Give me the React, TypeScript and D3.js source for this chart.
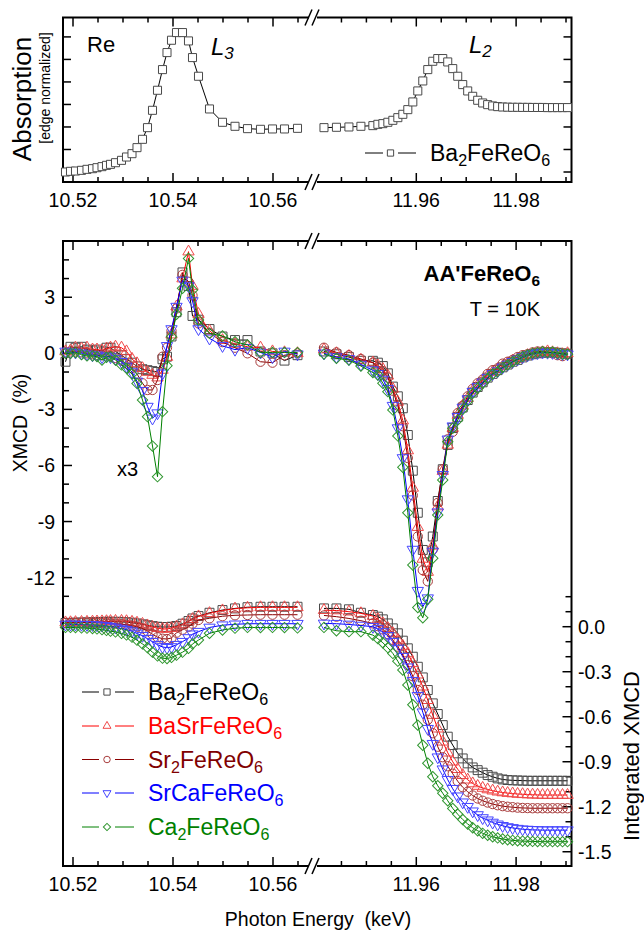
import React from 'react';
import * as d3 from 'd3';

// photon energy grids (keV)
const eL3 = [10.5185, 10.5195, 10.5205, 10.5217, 10.5228, 10.5239, 10.5248, 10.5258, 10.5267, 10.5275, 10.5285, 10.5297, 10.5307, 10.5318, 10.5328, 10.5339, 10.5349, 10.5359, 10.5369, 10.5379, 10.5388, 10.5397, 10.5407, 10.5419, 10.5431, 10.5439, 10.5451, 10.5473, 10.5499, 10.5524, 10.5549, 10.5575, 10.5599, 10.5623, 10.5649];
const eL2 = [11.9415, 11.944, 11.9465, 11.9489, 11.9513, 11.9523, 11.9533, 11.9543, 11.9553, 11.9563, 11.9573, 11.9583, 11.9593, 11.9603, 11.9613, 11.9623, 11.9633, 11.9643, 11.9653, 11.9663, 11.9673, 11.9683, 11.9693, 11.9703, 11.9713, 11.9723, 11.9733, 11.9743, 11.9753, 11.9763, 11.9773, 11.9783, 11.9793, 11.9803, 11.9813, 11.9823, 11.9833, 11.9843, 11.9853, 11.9863, 11.9873, 11.9883, 11.9893, 11.9903];

// absorption, Ba2FeReO6 (edge normalized)
const absL3 = [0, 0.015, 0.022, 0.037, 0.059, 0.074, 0.096, 0.119, 0.148, 0.17, 0.207, 0.259, 0.333, 0.407, 0.541, 0.726, 0.985, 1.37, 1.815, 2.274, 2.652, 2.926, 3.096, 3.096, 2.911, 2.541, 2.126, 1.4, 1.104, 1.015, 0.963, 0.948, 0.956, 0.956, 0.97];
const absL2 = [0.985, 0.993, 1.0, 1.015, 1.03, 1.059, 1.074, 1.104, 1.148, 1.207, 1.281, 1.385, 1.556, 1.8, 2.022, 2.274, 2.459, 2.519, 2.519, 2.444, 2.296, 2.126, 1.941, 1.8, 1.681, 1.593, 1.533, 1.496, 1.467, 1.452, 1.444, 1.44, 1.437, 1.437, 1.435, 1.435, 1.433, 1.433, 1.433, 1.43, 1.43, 1.43, 1.43, 1.43];

// XMCD (%), L3 shown x3
const baL3 = [-0.45, 0.35, 0.3, 0.35, 0.2, 0.15, 0.2, 0.1, 0.3, 0.3, 0.1, -0.1, -0.3, -0.5, -0.7, -0.85, -0.9, -0.95, -1.0, -0.32, -0.18, 0.9, 2.2, 4.33, 3.6, 2.0, 1.8, 1.3, 0.9, 0.71, 0.71, 0.1, 0.0, -0.39, -0.1];
const bsL3 = [0.1, 0.15, 0.3, 0.25, 0.3, 0.2, 0.2, 0.15, 0.25, 0.3, 0.35, 0.3, 0.1, -0.3, -0.54, -0.8, -1.0, -1.16, -1.3, -0.89, -0.2, 1.0, 2.5, 4.0, 5.44, 3.6, 2.1, 1.2, 0.7, 0.5, 0.35, 0.3, 0.1, 0.05, 0.0];
const srL3 = [0.05, 0.1, 0.1, 0.05, 0.0, -0.05, -0.1, -0.1, -0.05, -0.15, -0.25, -0.4, -0.55, -0.8, -1.1, -1.6, -1.96, -1.96, -1.43, -0.18, 0.3, 1.2, 2.4, 4.2, 3.83, 3.1, 1.6, 1.1, 0.6, 0.3, 0.0, -0.45, -0.5, -0.1, 0.0];
const scL3 = [0.1, 0.05, 0.05, 0.0, -0.05, -0.1, -0.1, -0.2, -0.15, -0.2, -0.3, -0.45, -0.7, -1.0, -1.5, -2.0, -2.85, -3.48, -3.2, -1.07, 0.4, 1.3, 2.5, 3.9, 3.6, 2.8, 1.3, 0.8, 0.4, 0.2, 0.3, 0.05, -0.2, 0.1, -0.05];
const caL3 = [0, 0, 0.04, -0.07, -0.14, -0.14, -0.18, -0.36, -0.21, -0.18, -0.36, -0.62, -0.8, -1.11, -1.61, -2.5, -3.39, -4.96, -6.6, -3.12, -0.66, 0.89, 2.09, 3.48, 5.08, 3.39, 1.78, 1.07, 0.93, 0.62, 0.45, 0.05, 0.05, 0.05, 0.04];

const baL2 = [0.1, -0.05, -0.2, -0.4, -0.4, -0.5, -0.68, -1.07, -1.78, -2.3, -2.94, -4.37, -6.28, -8.53, -10.52, -11.18, -9.8, -7.9, -6.2, -4.9, -4.0, -3.4, -2.9, -2.5, -2.1, -1.8, -1.55, -1.3, -1.1, -0.9, -0.75, -0.6, -0.45, -0.35, -0.22, -0.12, -0.05, 0.0, 0.03, 0.05, 0.05, 0.03, 0.0, -0.02];
const bsL2 = [0.2, 0.0, -0.15, -0.35, -0.5, -0.65, -0.85, -1.2, -1.9, -2.6, -3.6, -5.2, -7.2, -9.3, -11.0, -11.7, -10.3, -8.2, -6.3, -4.9, -4.0, -3.3, -2.8, -2.4, -2.0, -1.7, -1.45, -1.2, -1.0, -0.85, -0.7, -0.55, -0.4, -0.3, -0.2, -0.1, -0.05, 0.0, 0.05, 0.1, 0.05, 0.0, -0.05, 0.0];
const srL2 = [0.3, 0.05, -0.1, -0.3, -0.5, -0.75, -0.95, -1.3, -2.0, -2.8, -3.9, -5.6, -7.6, -9.8, -11.6, -12.2, -10.5, -8.0, -6.2, -4.6, -4.2, -3.2, -2.8, -2.3, -1.9, -1.6, -1.4, -1.1, -0.9, -0.8, -0.55, -0.45, -0.35, -0.2, -0.1, -0.05, 0.05, 0.1, 0.1, 0.05, 0.0, -0.1, -0.15, -0.05];
const scL2 = [0.0, -0.2, -0.3, -0.6, -0.9, -1.1, -1.4, -1.9, -2.8, -4.0, -5.6, -7.8, -10.5, -12.7, -13.56, -13.1, -10.6, -8.5, -6.5, -4.6, -3.9, -3.4, -2.9, -2.45, -2.05, -1.8, -1.55, -1.3, -1.1, -0.95, -0.75, -0.6, -0.45, -0.32, -0.2, -0.1, -0.02, 0.02, 0.05, 0.04, 0.03, 0.0, -0.03, -0.05];
const caL2 = [-0.04, -0.27, -0.36, -0.68, -1.03, -1.16, -1.6, -2.05, -3.03, -4.42, -6.1, -8.53, -11.33, -13.6, -14.15, -13.16, -10.97, -8.65, -6.78, -4.73, -4.01, -3.57, -3.0, -2.55, -2.14, -1.87, -1.6, -1.34, -1.1, -0.98, -0.75, -0.62, -0.45, -0.32, -0.18, -0.09, 0.0, 0.04, 0.09, 0.04, 0.07, 0.0, -0.04, -0.05];

// integrated XMCD
const baI3 = [0.025, 0.026, 0.027, 0.028, 0.029, 0.03, 0.031, 0.032, 0.033, 0.033, 0.033, 0.032, 0.03, 0.027, 0.022, 0.016, 0.01, 0.004, 0.0, -0.002, -0.002, 0.0, 0.005, 0.02, 0.038, 0.055, 0.071, 0.093, 0.111, 0.122, 0.13, 0.133, 0.133, 0.133, 0.133];
const bsI3 = [0.028, 0.029, 0.03, 0.031, 0.032, 0.033, 0.034, 0.035, 0.036, 0.037, 0.038, 0.038, 0.036, 0.032, 0.026, 0.018, 0.008, -0.002, -0.01, -0.015, -0.015, -0.01, 0.0, 0.015, 0.035, 0.05, 0.068, 0.09, 0.108, 0.12, 0.126, 0.129, 0.129, 0.129, 0.129];
const srI3 = [0.025, 0.025, 0.026, 0.026, 0.026, 0.025, 0.025, 0.024, 0.023, 0.022, 0.02, 0.017, 0.013, 0.008, 0.0, -0.012, -0.03, -0.05, -0.07, -0.08, -0.082, -0.075, -0.04, -0.02, 0.0, 0.02, 0.045, 0.056, 0.07, 0.076, 0.078, 0.08, 0.08, 0.08, 0.08];
const scI3 = [0.015, 0.015, 0.015, 0.014, 0.013, 0.012, 0.01, 0.008, 0.005, 0.0, -0.005, -0.012, -0.02, -0.03, -0.045, -0.06, -0.08, -0.1, -0.12, -0.135, -0.14, -0.135, -0.12, -0.1, -0.075, -0.05, -0.033, -0.005, 0.01, 0.016, 0.02, 0.02, 0.02, 0.02, 0.02];
const caI3 = [-0.005, -0.005, -0.006, -0.008, -0.01, -0.012, -0.015, -0.02, -0.025, -0.03, -0.035, -0.045, -0.055, -0.07, -0.09, -0.115, -0.14, -0.17, -0.195, -0.21, -0.212, -0.205, -0.19, -0.17, -0.145, -0.115, -0.089, -0.044, -0.022, -0.01, -0.005, -0.006, -0.005, -0.006, -0.008];

const baI2 = [0.122, 0.122, 0.116, 0.093, 0.078, 0.067, 0.049, 0.022, -0.011, -0.044, -0.093, -0.144, -0.2, -0.267, -0.338, -0.422, -0.511, -0.582, -0.656, -0.733, -0.789, -0.844, -0.878, -0.911, -0.938, -0.956, -0.973, -0.989, -1.0, -1.011, -1.018, -1.022, -1.024, -1.025, -1.026, -1.027, -1.027, -1.027, -1.027, -1.027, -1.027, -1.027, -1.027, -1.027];
const bsI2 = [0.11, 0.108, 0.1, 0.089, 0.071, 0.049, 0.022, -0.01, -0.044, -0.089, -0.129, -0.178, -0.244, -0.32, -0.4, -0.49, -0.589, -0.68, -0.767, -0.84, -0.9, -0.95, -0.99, -1.02, -1.045, -1.062, -1.075, -1.085, -1.093, -1.1, -1.105, -1.109, -1.112, -1.115, -1.117, -1.119, -1.12, -1.121, -1.122, -1.122, -1.122, -1.122, -1.122, -1.122];
const srI2 = [0.075, 0.067, 0.055, 0.04, 0.022, 0.004, -0.018, -0.049, -0.089, -0.133, -0.189, -0.256, -0.33, -0.422, -0.52, -0.62, -0.71, -0.8, -0.87, -0.93, -0.98, -1.03, -1.07, -1.1, -1.125, -1.145, -1.16, -1.172, -1.182, -1.19, -1.196, -1.2, -1.203, -1.206, -1.208, -1.209, -1.21, -1.21, -1.21, -1.21, -1.21, -1.21, -1.21, -1.21];
const scI2 = [0.022, 0.02, 0.015, 0.008, 0.0, -0.015, -0.035, -0.06, -0.1, -0.145, -0.2, -0.27, -0.36, -0.46, -0.57, -0.68, -0.78, -0.87, -0.95, -1.02, -1.08, -1.13, -1.17, -1.2, -1.23, -1.255, -1.275, -1.29, -1.305, -1.317, -1.327, -1.335, -1.341, -1.346, -1.35, -1.352, -1.354, -1.355, -1.356, -1.356, -1.356, -1.356, -1.356, -1.356];
const caI2 = [-0.005, -0.027, -0.033, -0.033, -0.056, -0.08, -0.107, -0.14, -0.178, -0.23, -0.289, -0.389, -0.52, -0.656, -0.79, -0.91, -1.0, -1.06, -1.11, -1.16, -1.211, -1.25, -1.285, -1.315, -1.34, -1.36, -1.377, -1.39, -1.4, -1.408, -1.415, -1.42, -1.424, -1.427, -1.429, -1.43, -1.431, -1.432, -1.433, -1.433, -1.433, -1.433, -1.433, -1.433];

type Shape = 'square' | 'triangle' | 'circle' | 'down' | 'diamond';

const samples = [
  { name: 'Ba2FeReO6', shape: 'square' as Shape, line: '#000000', mark: '#4a4a4a', text: '#000000', l3: baL3, l2: baL2, i3: baI3, i2: baI2 },
  { name: 'BaSrFeReO6', shape: 'triangle' as Shape, line: '#ff0000', mark: '#f04848', text: '#ff0000', l3: bsL3, l2: bsL2, i3: bsI3, i2: bsI2 },
  { name: 'Sr2FeReO6', shape: 'circle' as Shape, line: '#8b0000', mark: '#a83c3c', text: '#800000', l3: srL3, l2: srL2, i3: srI3, i2: srI2 },
  { name: 'SrCaFeReO6', shape: 'down' as Shape, line: '#0000ff', mark: '#4646ff', text: '#0000ff', l3: scL3, l2: scL2, i3: scI3, i2: scI2 },
  { name: 'Ca2FeReO6', shape: 'diamond' as Shape, line: '#008000', mark: '#2f962f', text: '#008000', l3: caL3, l2: caL2, i3: caI3, i2: caI2 },
];

const FONT = "'Liberation Sans', Arial, Helvetica, sans-serif";
const X0 = 63, X1 = 571.5, XB = 313;
const TOP = { y0: 17.5, y1: 182 };
const BOT = { y0: 241, y1: 866 };
const TICK_FONT = 19.5;

const xL = d3.scaleLinear().domain([10.518, 10.568]).range([X0, XB]);
const xR = d3.scaleLinear().domain([11.9393, 11.9911]).range([XB, X1]);
const yAbs = d3.scaleLinear().domain([-0.222, 3.431]).range([TOP.y1, TOP.y0]);
const yX = d3.scaleLinear().domain([-27.43, 6.01]).range([BOT.y1, BOT.y0]);
const yI = d3.scaleLinear().domain([-1.595, 2.571]).range([BOT.y1, BOT.y0]);

const symSpec: Record<Shape, [d3.SymbolType, number, number]> = {
  square: [d3.symbolSquare, 80, 0],
  triangle: [d3.symbolTriangle, 56, 0],
  circle: [d3.symbolCircle, 68, 0],
  down: [d3.symbolTriangle, 56, 180],
  diamond: [d3.symbolSquare, 54, 45],
};

function symPath(shape: Shape, k = 1) {
  const [t, s] = symSpec[shape];
  return d3.symbol().type(t).size(s * k * k)() as string;
}

function Marks({ e, v, xs, ys, shape, color, fill = 'none', k = 1 }: any) {
  const d = symPath(shape, k);
  const rot = symSpec[shape as Shape][2];
  return (
    <g>
      {v.map((val: number, i: number) => (
        <path key={i} d={d} transform={`translate(${xs(e[i])},${ys(val)}) rotate(${rot})`}
          fill={fill} stroke={color} strokeWidth={1} />
      ))}
    </g>
  );
}

function Trace({ e, v, xs, ys, color }: any) {
  const gen = d3.line<number>().x((_, i) => xs(e[i])).y(d => ys(d));
  return <path d={gen(v) ?? ''} fill="none" stroke={color} strokeWidth={1} />;
}

function Chem({ label, size, shift }: { label: string; size: number; shift: number }) {
  const parts = label.split(/(\d)/).filter(p => p !== '');
  let low = false;
  return (
    <>
      {parts.map((p, i) => {
        const isSub = /^\d$/.test(p);
        const dy = isSub === low ? 0 : isSub ? shift : -shift;
        low = isSub;
        return <tspan key={i} dy={dy} fontSize={isSub ? size * 0.7 : size}>{p}</tspan>;
      })}
    </>
  );
}

const ticksL = xL.ticks(10);
const ticksR = xR.ticks(10).filter(t => t > 11.942);
const isMajorX = (t: number) => Math.round(t * 1000) % 20 === 0;

function XAxis({ y0, y1, labels }: { y0: number; y1: number; labels: boolean }) {
  const all = [...ticksL.map(t => [xL(t), t]), ...ticksR.map(t => [xR(t), t])];
  return (
    <g>
      {all.map(([x, t], i) => {
        const len = isMajorX(t) ? 9 : 5;
        return (
          <g key={i}>
            <line x1={x} x2={x} y1={y1} y2={y1 - len} stroke="#000" strokeWidth={1.5} />
            <line x1={x} x2={x} y1={y0} y2={y0 + len} stroke="#000" strokeWidth={1.5} />
            {labels && isMajorX(t) && (
              <text x={x} y={y1 + 25} textAnchor="middle" fontSize={TICK_FONT}>{t.toFixed(2)}</text>
            )}
          </g>
        );
      })}
    </g>
  );
}

function Frame({ y0, y1 }: { y0: number; y1: number }) {
  const slash = (y: number) => (
    <g>
      <rect x={XB - 4} y={y - 2} width={8} height={4} fill="#fff" />
      <line x1={XB - 8} y1={y + 8} x2={XB - 1} y2={y - 8} stroke="#000" strokeWidth={1.5} />
      <line x1={XB - 1} y1={y + 8} x2={XB + 6} y2={y - 8} stroke="#000" strokeWidth={1.5} />
    </g>
  );
  return (
    <g>
      <rect x={X0} y={y0} width={X1 - X0} height={y1 - y0} fill="none" stroke="#000" strokeWidth={2} />
      {slash(y0)}
      {slash(y1)}
    </g>
  );
}

export default function App() {
  const absTicks = yAbs.ticks(8).filter(t => t >= 0 && t <= 3.01);
  const xmcdTicks = yX.ticks(35).filter(t => t >= -13 && t <= 5);
  const intTicks = yI.ticks(45).filter(t => t >= -1.55 && t <= 0.25);
  const legendRows = [692, 726, 759.5, 793, 827];

  return (
    <svg width={644} height={937} style={{ position: 'absolute', left: 0, top: 0, background: '#fff' }}
      fontFamily={FONT}>
      {/* top panel: absorption */}
      <Frame y0={TOP.y0} y1={TOP.y1} />
      <XAxis y0={TOP.y0} y1={TOP.y1} labels={true} />
      {absTicks.map((t, i) => (
        <g key={i}>
          <line x1={X0} x2={X0 + 8} y1={yAbs(t)} y2={yAbs(t)} stroke="#000" strokeWidth={1.5} />
          <line x1={X1} x2={X1 - 8} y1={yAbs(t)} y2={yAbs(t)} stroke="#000" strokeWidth={1.5} />
        </g>
      ))}
      <Trace e={eL3} v={absL3} xs={xL} ys={yAbs} color="#000" />
      <Trace e={eL2} v={absL2} xs={xR} ys={yAbs} color="#000" />
      <Marks e={eL3} v={absL3} xs={xL} ys={yAbs} shape="square" color="#4a4a4a" fill="#fff" k={0.9} />
      <Marks e={eL2} v={absL2} xs={xR} ys={yAbs} shape="square" color="#4a4a4a" fill="#fff" k={0.9} />

      <text transform="translate(31,99) rotate(-90)" textAnchor="middle" fontSize={26}>Absorption</text>
      <text transform="translate(50,88) rotate(-90)" textAnchor="middle" fontSize={14}>[edge normalized]</text>
      <text x={87} y={52} fontSize={22}>Re</text>
      <text x={211} y={55} fontSize={24} fontStyle="italic">L<tspan dy={4} fontSize={17}>3</tspan></text>
      <text x={469} y={53} fontSize={24} fontStyle="italic">L<tspan dy={4} fontSize={17}>2</tspan></text>

      <line x1={365} x2={383} y1={153} y2={153} stroke="#000" strokeWidth={1} />
      <line x1={398} x2={416} y1={153} y2={153} stroke="#000" strokeWidth={1} />
      <path d={symPath('square', 0.7)} transform="translate(390.5,153)" fill="#fff" stroke="#4a4a4a" />
      <text x={430} y={161} fontSize={23}><Chem label="Ba2FeReO6" size={23} shift={5} /></text>

      {/* bottom panel: XMCD and integrated XMCD */}
      <Frame y0={BOT.y0} y1={BOT.y1} />
      <XAxis y0={BOT.y0} y1={BOT.y1} labels={true} />
      {xmcdTicks.map((t, i) => {
        const major = Math.round(t) % 3 === 0;
        return (
          <g key={i}>
            <line x1={X0} x2={X0 + (major ? 9 : 6)} y1={yX(t)} y2={yX(t)} stroke="#000" strokeWidth={1.5} />
            {major && t <= 3 && (
              <text x={55} y={yX(t) + 7} textAnchor="end" fontSize={TICK_FONT}>{String(Math.round(t))}</text>
            )}
          </g>
        );
      })}
      {intTicks.map((t, i) => {
        const r = Math.round(t * 10);
        const major = r % 3 === 0;
        return (
          <g key={i}>
            <line x1={X1} x2={X1 - (major ? 9 : 6)} y1={yI(t)} y2={yI(t)} stroke="#000" strokeWidth={1.5} />
            {major && r <= 0 && (
              <text x={578} y={yI(t) + 7} fontSize={TICK_FONT}>{(r / 10).toFixed(1)}</text>
            )}
          </g>
        );
      })}

      {samples.map(s => (
        <g key={s.name}>
          <Trace e={eL3} v={s.i3} xs={xL} ys={yI} color={s.line} />
          <Trace e={eL2} v={s.i2} xs={xR} ys={yI} color={s.line} />
          <Marks e={eL3} v={s.i3} xs={xL} ys={yI} shape={s.shape} color={s.mark} />
          <Marks e={eL2} v={s.i2} xs={xR} ys={yI} shape={s.shape} color={s.mark} />
        </g>
      ))}
      {samples.map(s => (
        <g key={s.name + 'x'}>
          <Trace e={eL3} v={s.l3} xs={xL} ys={yX} color={s.line} />
          <Trace e={eL2} v={s.l2} xs={xR} ys={yX} color={s.line} />
          <Marks e={eL3} v={s.l3} xs={xL} ys={yX} shape={s.shape} color={s.mark} />
          <Marks e={eL2} v={s.l2} xs={xR} ys={yX} shape={s.shape} color={s.mark} />
        </g>
      ))}

      <text x={540} y={281} textAnchor="end" fontSize={22} fontWeight="bold">
        <Chem label="AA'FeReO6" size={22} shift={5} />
      </text>
      <text x={540} y={316} textAnchor="end" fontSize={20}>T = 10K</text>
      <text x={117} y={476} fontSize={20}>x3</text>

      {samples.map((s, i) => {
        const y = legendRows[i];
        return (
          <g key={s.name + 'lg'}>
            <line x1={82} x2={99} y1={y} y2={y} stroke={s.line} strokeWidth={1} />
            <line x1={115} x2={134} y1={y} y2={y} stroke={s.line} strokeWidth={1} />
            <path d={symPath(s.shape, 0.7)} transform={`translate(107,${y}) rotate(${symSpec[s.shape][2]})`}
              fill="none" stroke={s.mark} />
            <text x={148} y={y + 8} fontSize={23} fill={s.text}>
              <Chem label={s.name} size={23} shift={5} />
            </text>
          </g>
        );
      })}

      <text transform="translate(27,423) rotate(-90)" textAnchor="middle" fontSize={19.5}
        style={{ whiteSpace: 'pre' }}>XMCD  (%)</text>
      <text transform="translate(639,756) rotate(-90)" textAnchor="middle" fontSize={22}>Integrated XMCD</text>
      <text x={318} y={926} textAnchor="middle" fontSize={19.5} style={{ whiteSpace: 'pre' }}>Photon Energy  (keV)</text>
    </svg>
  );
}
